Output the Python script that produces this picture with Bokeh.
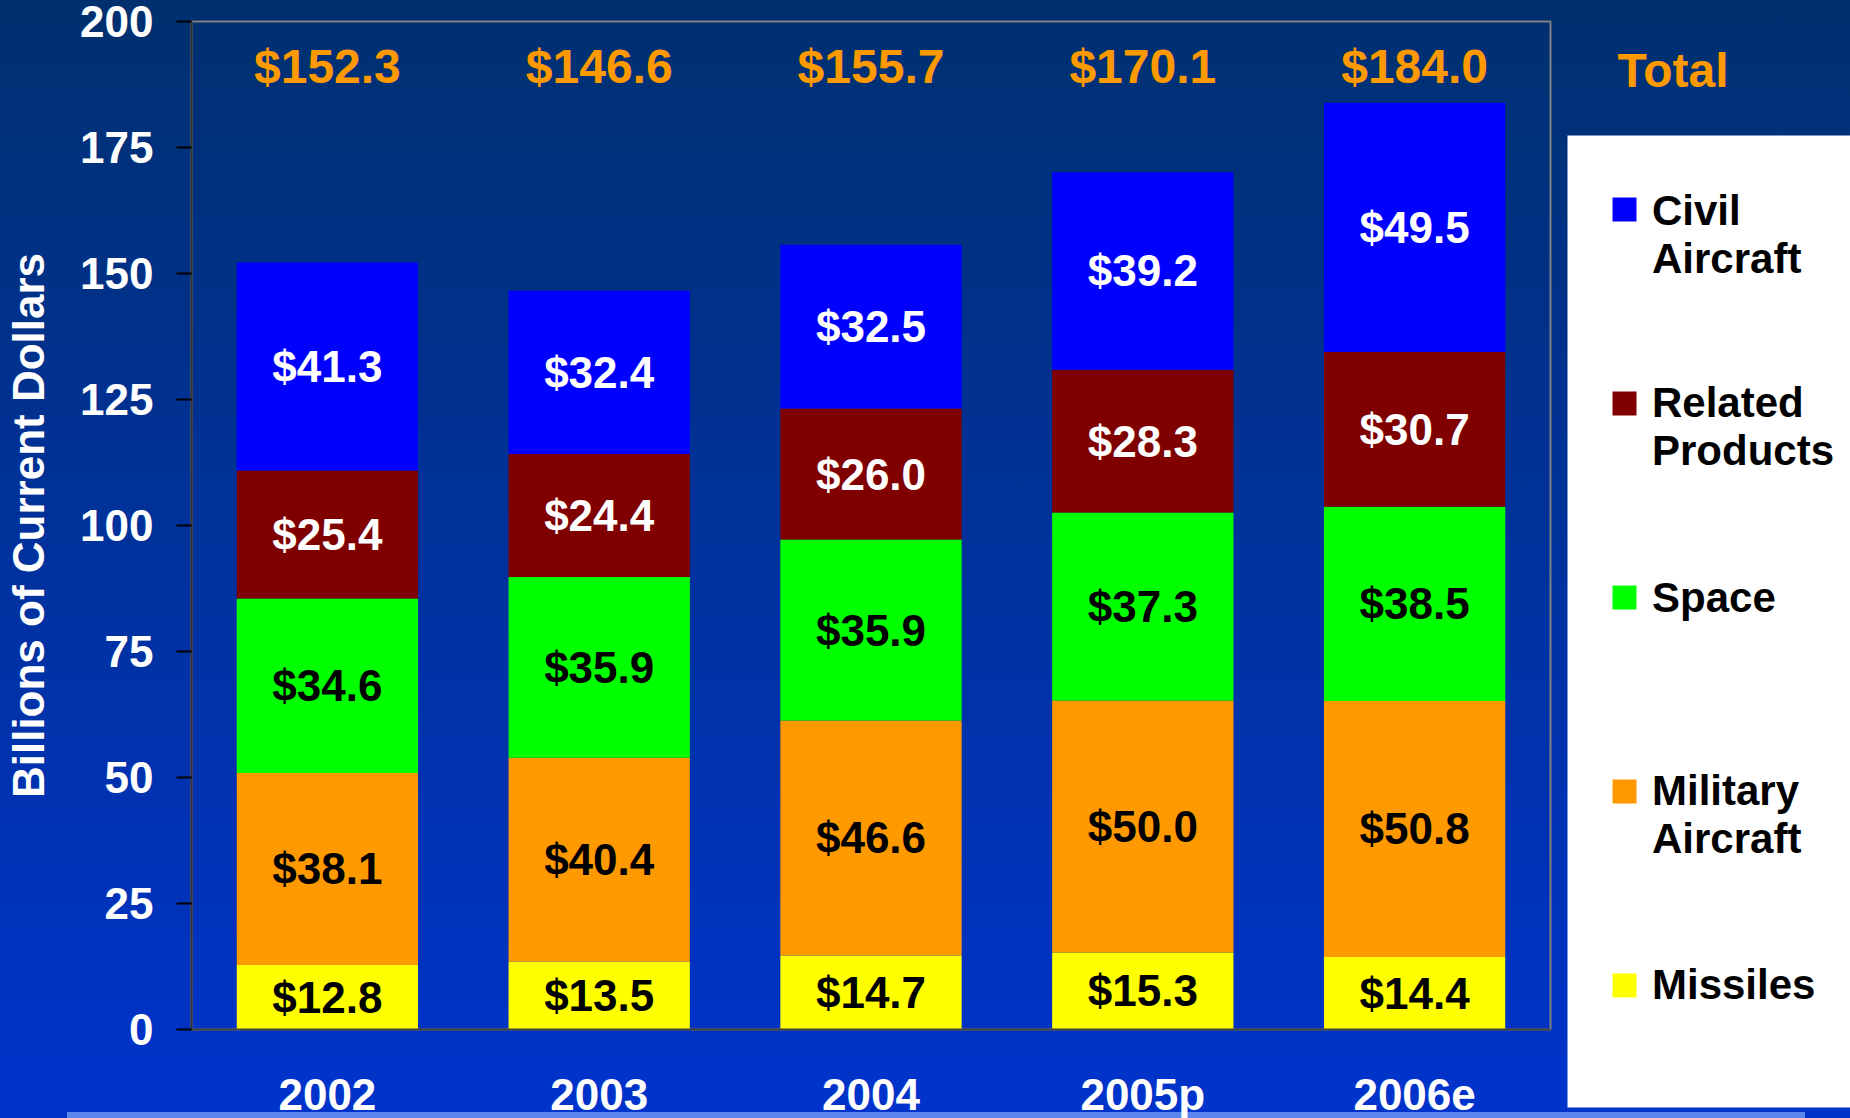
from bokeh.plotting import figure
from bokeh.models import ColumnDataSource, FixedTicker, Legend, LegendItem, Range1d
from bokeh.layouts import row
from bokeh.core.properties import value
from bokeh.embed import file_html
from bokeh.resources import INLINE
import numpy as np

# ---- data ----
years = ["2002", "2003", "2004", "2005p", "2006e"]
missiles = [12.8, 13.5, 14.7, 15.3, 14.4]
military = [38.1, 40.4, 46.6, 50.0, 50.8]
space = [34.6, 35.9, 35.9, 37.3, 38.5]
related = [25.4, 24.4, 26.0, 28.3, 30.7]
civil = [41.3, 32.4, 32.5, 39.2, 49.5]
totals = [152.3, 146.6, 155.7, 170.1, 184.0]
y_ticks = [0, 25, 50, 75, 100, 125, 150, 175, 200]

series_keys = ["missiles", "military", "space", "related", "civil"]
series_labels = ["Missiles", "Military\nAircraft", "Space", "Related\nProducts", "Civil\nAircraft"]
colors = ["#FFFF00", "#FF9900", "#00FF00", "#800000", "#0000FF"]
text_colors = ["black", "black", "black", "white", "white"]

FONT = "Liberation Sans"

data = {"year": years, "missiles": missiles, "military": military,
        "space": space, "related": related, "civil": civil}
bottom = np.zeros(len(years))
for k in series_keys:
    vals = np.array(data[k])
    data[k + "_mid"] = bottom + vals / 2.0
    data[k + "_lbl"] = ["$%.1f" % v for v in vals]
    bottom = bottom + vals
data["total_lbl"] = ["$%.1f" % t for t in totals]
data["total_y"] = [191.0] * len(years)
src = ColumnDataSource(data)

# ---------------- main chart ----------------
p1 = figure(x_range=years, y_range=(0, 200),
            frame_width=1359, frame_height=1008,
            min_border_left=191, min_border_right=3,
            min_border_top=21, min_border_bottom=80,
            output_backend="svg", toolbar_location=None,
            background_fill_alpha=0, border_fill_alpha=0,
            outline_line_color="#808080", outline_line_width=2)
p1.frame_align = False

rs = p1.vbar_stack(series_keys, x="year", width=0.667, color=colors,
                   line_color=None, source=src)

for k, tc in zip(series_keys, text_colors):
    p1.text(x="year", y=k + "_mid", text=k + "_lbl", source=src,
            text_align="center", text_baseline="middle",
            text_color=tc, text_font=value(FONT), text_font_style="bold",
            text_font_size="44px")

p1.text(x="year", y="total_y", text="total_lbl", source=src,
        text_align="center", text_baseline="middle",
        text_color="#FF9900", text_font=value(FONT), text_font_style="bold",
        text_font_size="48px")

p1.grid.grid_line_color = None
ya = p1.yaxis[0]
ya.ticker = FixedTicker(ticks=y_ticks)
ya.minor_tick_line_color = None
ya.major_tick_out = 15
ya.major_tick_in = 0
ya.major_tick_line_color = "black"
ya.major_tick_line_width = 2
ya.axis_line_color = "#333333"
ya.axis_line_width = 2
ya.major_label_standoff = 23
ya.major_label_text_font = FONT
ya.major_label_text_font_style = "bold"
ya.major_label_text_font_size = "44px"
ya.major_label_text_color = "white"
ya.axis_label = "Billions of Current Dollars"
ya.axis_label_text_font = FONT
ya.axis_label_text_font_style = "bold"
ya.axis_label_text_font_size = "44px"
ya.axis_label_text_color = "white"
ya.axis_label_standoff = 24

xa = p1.xaxis[0]
xa.major_tick_line_color = None
xa.minor_tick_line_color = None
xa.major_tick_out = 0
xa.major_tick_in = 0
xa.axis_line_color = "#404040"
xa.axis_line_width = 2
xa.major_label_standoff = 40
xa.major_label_text_font = FONT
xa.major_label_text_font_style = "bold"
xa.major_label_text_font_size = "44px"
xa.major_label_text_color = "white"

# ---------------- legend panel (its frame is the white legend box) ----------------
BOX_TOP, BOX_BOTTOM = 135, 1107
p2 = figure(width=297, height=1118, x_range=Range1d(0, 283), y_range=Range1d(0, 972),
            min_border_left=14, min_border_right=0,
            min_border_top=BOX_TOP, min_border_bottom=1118 - BOX_BOTTOM,
            x_axis_type=None, y_axis_type=None,
            output_backend="svg", toolbar_location=None,
            background_fill_color="white", background_fill_alpha=1.0,
            border_fill_alpha=0, outline_line_color=None,
            title="Total")
p2.frame_align = False
p2.grid.visible = False
p2.title.text_font = FONT
p2.title.text_font_style = "bold"
p2.title.text_font_size = "48px"
p2.title.text_color = "#FF9900"
p2.title.align = "left"
p2.title.offset = 50
p2.title.standoff = 77

swatches = {}
for k, c in zip(series_keys, colors):
    swatches[k] = p2.vbar(x=[-1000], top=[0], width=1, color=c, line_color=None)
blank = p2.vbar(x=[-1000], top=[0], width=1, fill_alpha=0, line_alpha=0)

order = [4, 3, 2, 1, 0]   # Civil, Related, Space, Military, Missiles (top to bottom)

# colour swatches: one legend, entries aligned with each label's first line
SW = 30
sw_gap = 194
sw_first_center = 209
sw_leg = Legend(items=[LegendItem(label="", renderers=[swatches[series_keys[i]]]) for i in order],
                location=(42, BOX_BOTTOM - (sw_first_center - SW / 2 + 5 * SW + 4 * (sw_gap - SW))),
                margin=0, padding=0, spacing=sw_gap - SW,
                glyph_width=SW, glyph_height=SW, label_standoff=0, label_height=SW,
                label_width=0, label_text_font_size="1px",
                background_fill_alpha=0, border_line_color=None)
p2.add_layout(sw_leg, "center")

# label text of each entry (wrapped as in the original legend)
ITEM_H = 110
slot_centers = [234.5, 426.5, 598, 814.5, 984.5]   # canvas y (px) of each label block's centre
for i, cy in zip(order, slot_centers):
    leg = Legend(items=[LegendItem(label=series_labels[i], renderers=[blank])],
                 location=(42, BOX_BOTTOM - (cy + ITEM_H / 2)), margin=0,
                 padding=0, spacing=0, glyph_width=SW, glyph_height=SW,
                 label_standoff=13, label_height=ITEM_H,
                 label_text_font=FONT, label_text_font_style="bold",
                 label_text_font_size="42px", label_text_color="black",
                 label_text_line_height=1.25,
                 background_fill_alpha=0, border_line_color=None)
    p2.add_layout(leg, "center")

p = row(p1, p2, spacing=0, styles={
    "background": "linear-gradient(#5B86F0, #5B86F0) 67px 1112px / 1738px 6px no-repeat, "
                  "linear-gradient(to bottom, #00306F 0px, #0033CC 1118px) no-repeat",
})

open("out.html", "w").write(file_html(p, INLINE))
